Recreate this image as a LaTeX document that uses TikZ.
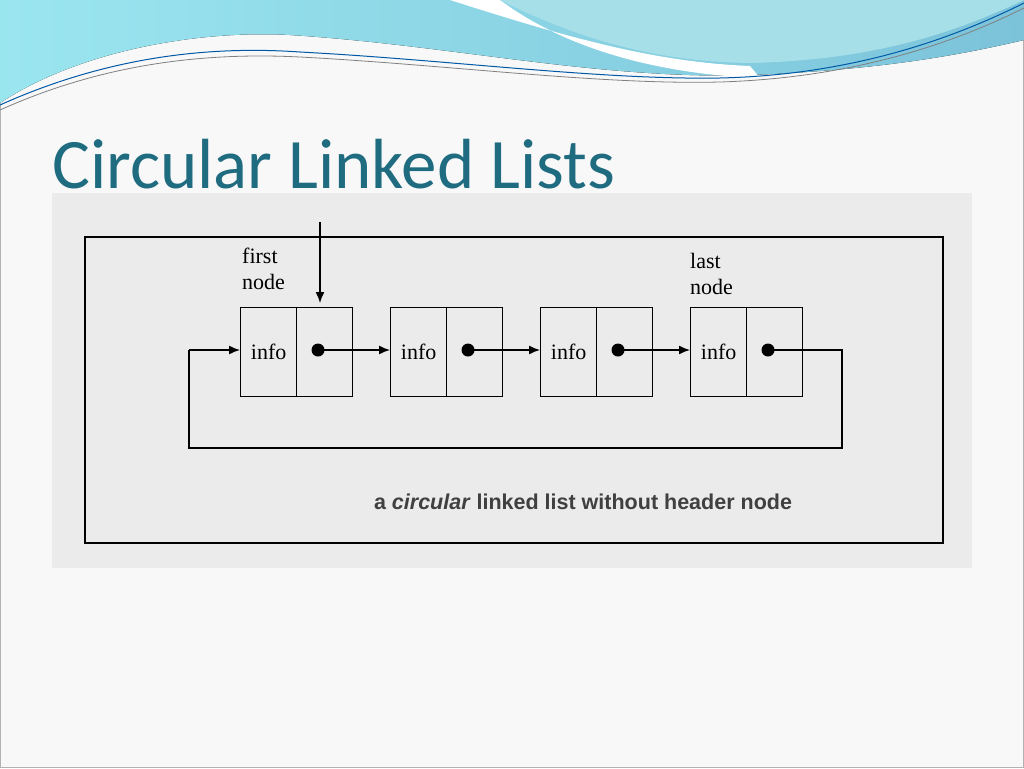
\documentclass[tikz,border=0pt]{standalone}
\usepackage{fontspec}
\usetikzlibrary{arrows.meta}
\setmainfont{Liberation Serif}
\newfontfamily\titlefont{Carlito}
\newfontfamily\capfont{Liberation Sans}
\definecolor{bgc}{HTML}{F8F8F8}
\definecolor{panel}{HTML}{EBEBEB}
\definecolor{titlec}{HTML}{1F6B80}
\definecolor{waveA}{HTML}{7CC3DA}
\definecolor{waveB}{HTML}{A6DFE8}
\tikzset{
  cell/.style={draw,line width=1.3pt,minimum width=56pt,minimum height=89pt,inner sep=0pt,font=\fontsize{22}{22}\selectfont},
  dot/.style={circle,fill=black,inner sep=0pt,minimum size=13pt},
  link/.style={line width=1.4pt,-{Latex[length=11pt,width=9pt]}},
  lbl/.style={font=\fontsize{22}{26}\selectfont,align=left,anchor=north west,inner sep=0pt}
}
\begin{document}
\begin{tikzpicture}[x=1pt,y=-1pt]
\useasboundingbox (0,0) rectangle (1024,768);
\fill[bgc] (0,0) rectangle (1024,768);
\draw[gray!60] (0.5,0.5) rectangle (1023.5,767.5);
% waves
\fill[left color=waveA!70!cyan!60,right color=waveA] (0,0) -- (0,103) .. controls (80,50) and (200,30) .. (290,35) .. controls (450,45) and (600,80) .. (750,75) .. controls (880,70) and (960,55) .. (1024,40) -- (1024,0) -- cycle;
\fill[white] (450,0) .. controls (560,35) and (650,62) .. (750,66) -- (760,78) .. controls (650,74) and (560,45) .. (500,0) -- cycle;
\fill[waveB] (500,0) .. controls (570,35) and (650,62) .. (750,63) .. controls (880,60) and (960,30) .. (1024,0) -- cycle;
\draw[teal!70!blue,line width=1pt] (0,105) .. controls (100,60) and (200,45) .. (300,52) .. controls (450,60) and (600,80) .. (720,78) .. controls (850,75) and (950,40) .. (1024,3);
\draw[gray,line width=0.8pt] (0,110) .. controls (100,65) and (200,52) .. (300,57) .. controls (450,65) and (600,85) .. (720,82) .. controls (850,78) and (950,45) .. (1024,8);
% title
\node[anchor=base west,inner sep=0pt,text=titlec,font=\titlefont\fontsize{71}{71}\selectfont] (title) at (52,188) {Circular Linked Lists};
% panel
\fill[panel] (52,193) rectangle (972,568);
\draw[line width=1.3pt] (85,237) rectangle (943,543);
% nodes
\foreach \i/\x in {1/240,2/390,3/540,4/690}{
  \node[cell,anchor=north west] (a\i) at (\x,307) {info};
  \node[cell,anchor=north west] (b\i) at (\x+56,307) {};
  \node[dot] (d\i) at (\x+78,350) {};
}
\draw[link] (d1.center) -- (a2.west|-d1);
\draw[link] (d2.center) -- (a3.west|-d2);
\draw[link] (d3.center) -- (a4.west|-d3);
\coordinate (r) at (842,350);
\coordinate (rb) at (842,448);
\coordinate (lb) at (189,448);
\coordinate (lt) at (189,350);
\draw[line width=1.4pt] (d4.center) -- (r) -- (rb) -- (lb) -- (lt);
\draw[link] (lt) -- (a1.west|-lt);
\coordinate (top) at (320,222);
\draw[link] (top) -- (320,303);
\node[lbl] (fn) at (242,248) {first\\node};
\node[lbl] (ln) at (690,253) {last\\node};
\node[font=\capfont\fontsize{21.5}{22}\selectfont\bfseries,text=black!75] (cap) at (583,502) {a \textit{circular} linked list without header node};
\end{tikzpicture}
\end{document}
